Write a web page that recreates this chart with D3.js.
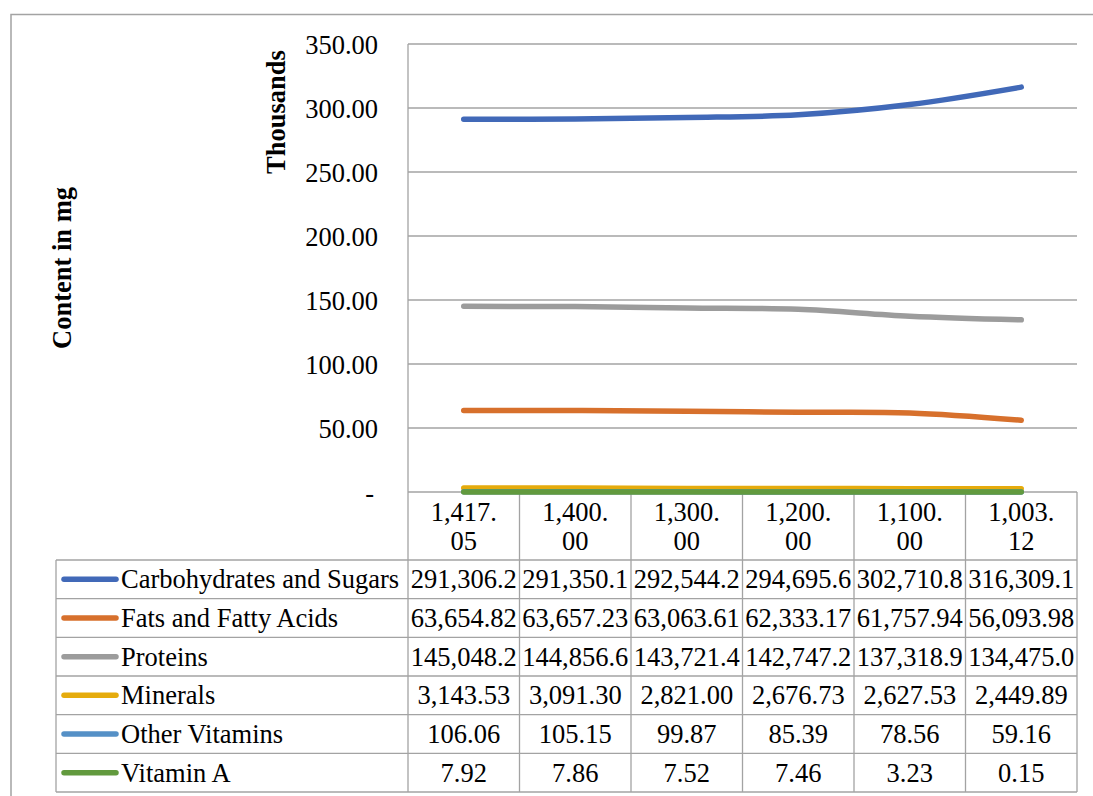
<!DOCTYPE html>
<html>
<head>
<meta charset="utf-8">
<script src="https://cdn.jsdelivr.net/npm/d3@7"></script>
<style>
  html, body { margin: 0; padding: 0; background: #fff; }
  svg { display: block; }
  text { font-family: "Liberation Serif", "Times New Roman", serif; fill: #000; }
</style>
</head>
<body>
<svg id="chart" width="1093" height="796"></svg>
<script>
// Sample sizes along the category axis (shown wrapped onto two lines)
const categories = ["1,417.05", "1,400.00", "1,300.00", "1,200.00", "1,100.00", "1,003.12"];

// Nutrient content in mg for each sample
const carbohydrates = [291306.2, 291350.1, 292544.2, 294695.6, 302710.8, 316309.1];
const fats          = [63654.82, 63657.23, 63063.61, 62333.17, 61757.94, 56093.98];
const proteins      = [145048.2, 144856.6, 143721.4, 142747.2, 137318.9, 134475.0];
const minerals      = [3143.53, 3091.30, 2821.00, 2676.73, 2627.53, 2449.89];
const otherVitamins = [106.06, 105.15, 99.87, 85.39, 78.56, 59.16];
const vitaminA      = [7.92, 7.86, 7.52, 7.46, 3.23, 0.15];

const seriesNames = ["Carbohydrates and Sugars", "Fats and Fatty Acids", "Proteins",
                     "Minerals", "Other Vitamins", "Vitamin A"];
const seriesValues = [carbohydrates, fats, proteins, minerals, otherVitamins, vitaminA];
const seriesColors = ["#4169b8", "#d7702c", "#9c9c9c", "#e5ab0c", "#5590c6", "#629a3e"];

// Value axis ticks, in thousands
const yTicks = [0, 50000, 100000, 150000, 200000, 250000, 300000, 350000];

const svg = d3.select("#chart");
const gridColor = "#a3a3a3";
const fontSize = 26.5;

// Layout
const plotLeft = 408, plotRight = 1077, plotTop = 44, plotBottom = 492;
const catRowBottom = 560, tableBottom = 792, legendLeft = 56;
const rowH = (tableBottom - catRowBottom) / seriesNames.length;

const x = d3.scaleBand().domain(categories).range([plotLeft, plotRight]);
const y = d3.scaleLinear().domain([0, 350000]).range([plotBottom, plotTop]);

// Outer chart frame
svg.append("rect")
  .attr("x", 11).attr("y", 14.5).attr("width", 1100).attr("height", 800)
  .attr("fill", "none").attr("stroke", gridColor).attr("stroke-width", 1.5);

// Horizontal gridlines
svg.append("g").selectAll("line").data(yTicks).join("line")
  .attr("x1", plotLeft).attr("x2", plotRight)
  .attr("y1", d => y(d)).attr("y2", d => y(d))
  .attr("stroke", gridColor).attr("stroke-width", 1.3);

// Value axis labels
const tickFmt = v => v === 0 ? "-" : d3.format(".2f")(v / 1000);
const yAxis = d3.axisLeft(y).tickValues(yTicks).tickFormat(tickFmt).tickSize(0).tickPadding(30);
const yg = svg.append("g").attr("transform", `translate(${plotLeft},0)`).call(yAxis);
yg.select(".domain").remove();
yg.selectAll("text")
  .style("font-family", "'Liberation Serif', serif")
  .style("font-size", fontSize + "px").attr("fill", "#000").attr("dy", "0.34em");
yg.selectAll(".tick").filter(d => d === 0).select("text").attr("dx", -4);

// Axis titles
svg.append("text")
  .attr("transform", "translate(71,268) rotate(-90)")
  .attr("text-anchor", "middle").attr("font-weight", "bold")
  .style("font-size", fontSize + "px").text("Content in mg");
svg.append("text")
  .attr("transform", "translate(285,112) rotate(-90)")
  .attr("text-anchor", "middle").attr("font-weight", "bold")
  .style("font-size", fontSize + "px").text("Thousands");

// Data table grid
const tableLines = svg.append("g").attr("stroke", gridColor).attr("stroke-width", 1.3);
// left edge of plot / label column
tableLines.append("line").attr("x1", plotLeft).attr("x2", plotLeft)
  .attr("y1", plotTop).attr("y2", tableBottom);
// category dividers and right edge
categories.forEach(c => {
  const xr = x(c) + x.bandwidth();
  tableLines.append("line").attr("x1", xr).attr("x2", xr)
    .attr("y1", plotBottom).attr("y2", tableBottom);
});
// legend column left edge
tableLines.append("line").attr("x1", legendLeft).attr("x2", legendLeft)
  .attr("y1", catRowBottom).attr("y2", tableBottom);
// row lines
d3.range(seriesNames.length + 1).forEach(i => {
  const yy = catRowBottom + i * rowH;
  tableLines.append("line").attr("x1", legendLeft).attr("x2", plotRight)
    .attr("y1", yy).attr("y2", yy);
});

// Category labels, wrapped after the decimal point
const catMid = (plotBottom + catRowBottom) / 2;
categories.forEach(c => {
  const cut = c.indexOf(".") + 1;
  const lines = [c.slice(0, cut), c.slice(cut)];
  const t = svg.append("text")
    .attr("text-anchor", "middle")
    .style("font-size", fontSize + "px");
  lines.forEach((ln, i) => {
    t.append("tspan")
      .attr("x", x(c) + x.bandwidth() / 2)
      .attr("y", catMid + (i - 0.5) * 29)
      .attr("dy", "0.34em")
      .text(ln);
  });
});

// Lines
const line = d3.line()
  .x((d, i) => x(categories[i]) + x.bandwidth() / 2)
  .y(d => y(d))
  .curve(d3.curveCatmullRom.alpha(0.5));

svg.append("g").selectAll("path").data(seriesValues).join("path")
  .attr("d", d => line(d))
  .attr("fill", "none")
  .attr("stroke", (d, i) => seriesColors[i])
  .attr("stroke-width", 5.5)
  .attr("stroke-linecap", "round")
  .attr("stroke-linejoin", "round");

// Table rows: legend key, series name, values
const valFmt = d3.format(",.2f");
seriesNames.forEach((name, i) => {
  const cy = catRowBottom + (i + 0.5) * rowH;
  svg.append("line")
    .attr("x1", 64).attr("x2", 116).attr("y1", cy).attr("y2", cy)
    .attr("stroke", seriesColors[i]).attr("stroke-width", 5.5)
    .attr("stroke-linecap", "round");
  svg.append("text")
    .attr("x", 121).attr("y", cy).attr("dy", "0.34em")
    .style("font-size", fontSize + "px").text(name);
  seriesValues[i].forEach((v, j) => {
    const t = svg.append("text")
      .attr("x", x(categories[j]) + x.bandwidth() / 2)
      .attr("y", cy).attr("dy", "0.34em")
      .attr("text-anchor", "middle")
      .style("font-size", fontSize + "px");
    // trim text that overflows its cell
    let s = valFmt(v);
    t.text(s);
    while (t.node().getComputedTextLength() > x.bandwidth() - 2 && s.length > 1) {
      s = s.slice(0, -1);
      t.text(s);
    }
  });
});
</script>
</body>
</html>
